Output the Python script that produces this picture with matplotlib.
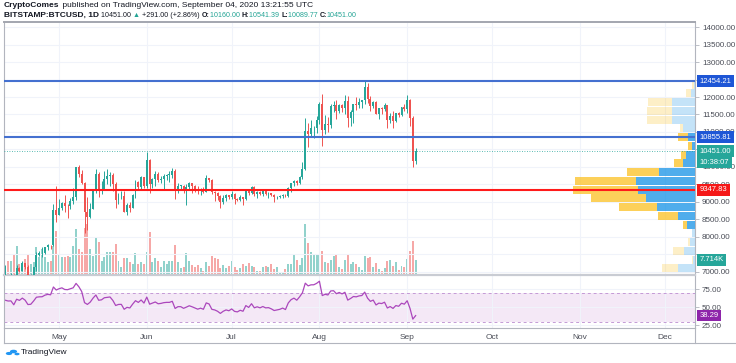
import numpy as np
import pandas as pd
import matplotlib
matplotlib.use('Agg')
import matplotlib.pyplot as plt
import matplotlib.dates as mdates
import matplotlib.transforms as mtransforms
from matplotlib.lines import Line2D
from matplotlib.patches import Circle
from matplotlib.colors import to_rgba

plt.rcParams['font.family'] = ['Liberation Sans', 'DejaVu Sans']

# BITSTAMP:BTCUSD daily candles, Apr 12 - Sep 4 2020
dates = pd.date_range('2020-04-12', '2020-09-04', freq='D')
first_open = 6890

closes = [
    6910, 6860, 6870, 6625, 7110, 7035, 7255, 7130, 6840, 6860, 7130, 7495, 7535, 7545, 7700, 7780, 7760, 8785, 8620,
    8830, 8975, 8890, 8880, 9020, 9150, 9990, 9810, 9540, 8720, 8560, 8810, 9310, 9790, 9320, 9380, 9670, 9730, 9780, 9510,
    9060, 9170, 9180, 8720, 8900, 8840, 9200, 9570, 9430, 9700, 9450,
    10200, 9520, 9660, 9800, 9630, 9670, 9750, 9780, 9780, 9880, 9320, 9470, 9470, 9340, 9430, 9530, 9460, 9380, 9300, 9360,
    9290, 9690, 9630, 9290, 9250, 9160, 9010, 9120, 9190, 9140,
    9230, 9090, 9060, 9130, 9080, 9340, 9250, 9440, 9240, 9290, 9240, 9300, 9240, 9250, 9200, 9130, 9150, 9170, 9210, 9160,
    9390, 9530, 9600, 9540, 9700, 9940, 11040, 10930, 11100, 11110, 11350,
    11810, 11070, 11230, 11190, 11740, 11770, 11600, 11760, 11680, 11880, 11400, 11570, 11790, 11770, 11870, 11910, 12300,
    11950, 11740, 11860, 11520, 11680, 11650, 11760, 11350, 11460, 11320, 11530, 11480, 11710, 11650,
    11920, 11390, 10160, 10451.00]

highs = [
    7200, 6910, 6975, 6935, 7190, 7150, 7300, 7260, 7200, 6935, 7155, 7580, 7605, 7700, 7710, 7800, 7780, 8950, 9470,
    9075, 9010, 9190, 8950, 9100, 9395, 10000, 10050, 9915, 9560, 9150, 8975, 9350, 9930, 9845, 9590, 9880, 9950, 9850, 9830,
    9570, 9260, 9310, 9300, 8980, 9010, 9220, 9620, 9600, 9740, 9710,
    10430, 10230, 9690, 9880, 9850, 9730, 9800, 9800, 9880, 9980, 9950, 9550, 9490, 9480, 9520, 9580, 9550, 9480, 9460, 9400,
    9420, 9780, 9690, 9670, 9320, 9290, 9200, 9190, 9230, 9200,
    9300, 9270, 9120, 9190, 9140, 9360, 9370, 9460, 9450, 9310, 9300, 9340, 9350, 9280, 9270, 9220, 9180, 9190, 9230, 9220,
    9420, 9540, 9640, 9630, 9730, 10130, 11400, 11250, 11350, 11170, 11450,
    11870, 12100, 11480, 11420, 11790, 11900, 11920, 11810, 11800, 12070, 12040, 11620, 11800, 11990, 11980, 11920, 12480,
    12400, 12020, 11880, 11880, 11690, 11720, 11820, 11770, 11540, 11590, 11550, 11580, 11720, 11790,
    12070, 11950, 11470, 10541.39]

lows = [
    6785, 6560, 6780, 6620, 6470, 7000, 7025, 7075, 6795, 6790, 6845, 7030, 7455, 7440, 7510, 7640, 7670, 7740, 8420,
    8615, 8760, 8715, 8535, 8790, 8935, 9045, 9720, 9520, 8100, 8200, 8530, 8800, 9260, 9140, 9240, 9330, 9500, 9470, 9300,
    8815, 8935, 9090, 8700, 8640, 8700, 8815, 9120, 9340, 9360, 9410,
    9410, 9270, 9400, 9460, 9580, 9540, 9380, 9640, 9570, 9690, 9090, 9250, 9350, 9250, 8910, 9370, 9270, 9280, 9220, 9200,
    9270, 9280, 9570, 9230, 9020, 9060, 8830, 8950, 9020, 9090,
    9080, 8940, 9030, 9040, 8900, 9060, 9200, 9230, 9160, 9120, 9190, 9160, 9200, 9110, 9170, 9000, 9090, 9120, 9110, 9130,
    9150, 9290, 9460, 9480, 9520, 9650, 9920, 10570, 10850, 10840, 10980,
    11220, 10600, 10950, 11000, 11100, 11580, 11380, 11530, 11560, 11520, 11140, 11160, 11260, 11630, 11690, 11680, 11810,
    11830, 11590, 11690, 11500, 11370, 11520, 11590, 11120, 11260, 11120, 11290, 11440, 11460, 11590,
    11530, 11160, 10000, 10089.77]

# daily volume, thousands of BTC
volumes = [
    3.9, 7.3, 7.3, 10.3, 15.0, 5.6, 5.6, 8.2, 10.8, 5.6, 6.5, 14.2, 9.0, 13.3, 9.0, 6.5, 7.3, 15.0, 22.7,
    10.8, 9.0, 9.0, 9.6, 9.0, 14.7, 23.6, 13.3, 12.0, 24.0, 26.0, 13.3, 10.0, 18.8, 16.8, 7.3, 9.0, 11.6, 11.6, 11.6,
    15.9, 7.3, 3.9, 8.5, 8.5, 6.5, 5.6, 11.3, 5.6, 6.8, 5.6,
    12.0, 21.9, 6.8, 8.7, 7.0, 4.3, 7.3, 5.6, 7.0, 7.3, 15.6, 6.8, 3.6, 3.9, 11.3, 7.0, 5.3, 3.9, 5.3, 3.4,
    1.9, 6.8, 4.8, 9.9, 8.5, 8.2, 3.6, 5.1, 3.6, 4.4,
    7.0, 3.9, 2.7, 3.6, 5.6, 4.8, 6.2, 4.4, 3.9, 2.2, 2.2, 3.9, 4.4, 3.9, 5.6, 3.1, 3.9, 1.7, 1.7, 3.1,
    5.6, 5.6, 10.3, 7.9, 5.3, 8.7, 26.2, 16.4, 12.0, 10.3, 10.3,
    10.8, 12.5, 6.8, 6.0, 7.7, 9.9, 10.3, 4.3, 3.1, 7.7, 10.3, 5.6, 6.8, 5.6, 4.3, 2.7, 9.6, 8.7, 9.0, 4.3,
    6.0, 3.1, 2.2, 3.4, 7.0, 7.9, 4.8, 6.5, 2.7, 4.8, 4.0,
    8.2, 12.5, 17.6, 7.714]

# closes before the visible range, only used to warm up RSI(14)
warmup_closes = [5360, 5020, 5370, 5410, 6190, 6200, 6190, 5830, 6480, 6770, 6690, 6760, 6380, 6250, 5880, 6400, 6420,
                 6640, 6800, 6740, 6860, 6780, 7330, 7200, 7370, 7290, 6865, 6890]

# visible range volume profile, rows of 250 USD
profile_bottoms = list(range(6979, 12480, 250))
profile_up = [17, 1.5, 11, 5, 3, 8, 17, 38, 49, 57, 59, 36, 12, 9, 3, 7, 12, 23, 23, 23, 4, 1]
profile_down = [16, 1.5, 11, 2, 0, 4, 20, 38, 55, 65, 61, 32, 9, 5, 4, 10, 3, 25, 25, 24, 5, 2]
value_area = (5, 15)

levels_blue = [12454.21, 10855.81]
level_red = 9347.83
last_price = 10451.00
last_volume_label = '7.714K'
countdown = '10:38:07'
rsi_last = 38.29
hidden_ticks = [12500, 10500, 7500]   # covered by the price tags

UP = '#26a69a'
DOWN = '#ef5350'
GRID = '#f0f3fa'
AXC = '#b2b5be'
TXT = '#131722'
TICK_TXT = '#4a4d57'

W, H = 736, 363
fig = plt.figure(figsize=(W / 100, H / 100), dpi=100)
fig.patch.set_facecolor('white')

def fx(px):
    return px / W

def fy(py):
    return 1 - py / H

ax = fig.add_axes([fx(4), fy(275), 691 / W, 253 / H])
rsi_ax = fig.add_axes([fx(4), fy(328), 691 / W, 52 / H], sharex=ax)
vol_ax = ax.twinx()
prof_ax = ax.twiny()

vol_ax.set_zorder(0)
ax.set_zorder(1)
prof_ax.set_zorder(2)
vol_ax.patch.set_facecolor('white')
vol_ax.patch.set_visible(True)
ax.patch.set_visible(False)
prof_ax.patch.set_visible(False)

x = mdates.date2num(dates)
c = np.array(closes, dtype=float)
o = np.array([first_open] + closes[:-1], dtype=float)
h = np.array(highs, dtype=float)
l = np.array(lows, dtype=float)
up = c >= o
col = np.where(up, UP, DOWN)

x_left = mdates.date2num(np.datetime64('2020-04-11T13:00'))
x_right = mdates.date2num(np.datetime64('2020-12-11T17:00'))

# price pane
ax.set_xlim(x_left, x_right)
ax.set_ylim(6914, 14143)
ax.vlines(x, l, h, colors=col, lw=0.7, zorder=3)
ax.bar(x, np.maximum(np.abs(c - o), 12), bottom=np.minimum(o, c), width=0.68,
       color=col, lw=0, zorder=4)
ax.set_yticks(np.arange(7000, 14001, 500))
ax.yaxis.set_major_formatter(matplotlib.ticker.FuncFormatter(
    lambda v, p: '' if round(v) in hidden_ticks else f'{v:.2f}'))
ax.yaxis.tick_right()
ax.tick_params(axis='y', labelsize=5.8, colors=AXC, labelcolor=TICK_TXT, length=3, width=0.6, pad=2)
ax.tick_params(axis='x', which='both', bottom=False, labelbottom=False)
ax.xaxis.set_major_locator(mdates.MonthLocator())
ax.grid(True, color=GRID, lw=0.8)
for s in ['left', 'right']:
    ax.spines[s].set_color(AXC)
    ax.spines[s].set_linewidth(0.8)
ax.spines['top'].set_color('#a3a6af')
ax.spines['top'].set_linewidth(1.4)
ax.spines['bottom'].set_color('#c9ccd3')
ax.spines['bottom'].set_linewidth(1.6)

# volume
vol_ax.set_ylim(0, 130)
vol_ax.bar(x, volumes, width=0.7, color=[to_rgba(cc, 0.5) for cc in col], lw=0)
vol_ax.yaxis.set_visible(False)
for s in vol_ax.spines.values():
    s.set_visible(False)

# volume profile (right side)
prof_ax.set_xlim(691, 0)
prof_ax.xaxis.set_visible(False)
for s in prof_ax.spines.values():
    s.set_visible(False)
for k, (b, u, d) in enumerate(zip(profile_bottoms, profile_up, profile_down)):
    inside = value_area[0] <= k <= value_area[1]
    a = 0.75 if inside else 0.25
    prof_ax.barh(b + 8, u, height=234, left=0, align='edge', color=to_rgba('#1592e6', a), lw=0)
    prof_ax.barh(b + 8, d, height=234, left=u, align='edge', color=to_rgba('#fbc123', a), lw=0)

for lv in levels_blue:
    prof_ax.axhline(lv, color='#4470d0', lw=1.5, zorder=5)
prof_ax.axhline(level_red, color='#ff1a1a', lw=1.5, zorder=5)
prof_ax.axhline(last_price, color=UP, lw=0.6, ls=(0, (1, 2)), zorder=5)

# right-side labels
blend = mtransforms.blended_transform_factory(prof_ax.transAxes, prof_ax.transData)
TAG_FS = 5.5

def price_tag(y, text, fc, dy=0, trans=blend):
    prof_ax.annotate(text, xy=(1.0, y), xycoords=trans, xytext=(3.4, dy), textcoords='offset points',
                     ha='left', va='center', fontsize=TAG_FS, color='white', annotation_clip=False, zorder=20,
                     bbox=dict(boxstyle='square,pad=0.3', fc=fc, ec='none'))

for lv in levels_blue:
    price_tag(lv, f'{lv:.2f}', '#1e56d6')
price_tag(level_red, f'{level_red:.2f}', '#f51818')
price_tag(last_price, f'{last_price:.2f}', UP)
price_tag(last_price, countdown, UP, dy=-7.8)
vol_blend = mtransforms.blended_transform_factory(vol_ax.transAxes, vol_ax.transData)
price_tag(volumes[-1], last_volume_label, UP, trans=vol_blend)

# RSI(14), Wilder smoothing
allc = np.array(warmup_closes + closes, dtype=float)
delta = np.diff(allc)
gain = np.clip(delta, 0, None)
loss = np.clip(-delta, 0, None)
n = 14
ag = gain[:n].mean()
al = loss[:n].mean()
rsi_all = []
for g, lo in zip(gain[n:], loss[n:]):
    ag = (ag * (n - 1) + g) / n
    al = (al * (n - 1) + lo) / n
    rsi_all.append(100 - 100 / (1 + ag / al))
rsi = np.array(rsi_all[-len(closes):])

rsi_ax.set_ylim(21, 93)
rsi_ax.axhspan(30, 70, color='#9c27b0', alpha=0.1, lw=0)
rsi_ax.axhline(70, color='#c49ad6', lw=0.7, ls=(0, (3, 3)))
rsi_ax.axhline(30, color='#c49ad6', lw=0.7, ls=(0, (3, 3)))
rsi_ax.plot(x, rsi, color='#ab47bc', lw=0.9)
rsi_ax.set_yticks([25, 50, 75])
rsi_ax.yaxis.set_major_formatter(matplotlib.ticker.FormatStrFormatter('%.2f'))
rsi_ax.yaxis.tick_right()
rsi_ax.tick_params(axis='y', labelsize=5.8, colors=AXC, labelcolor=TICK_TXT, length=3, width=0.6, pad=2)
rsi_ax.xaxis.set_major_locator(mdates.MonthLocator())
rsi_ax.xaxis.set_major_formatter(mdates.DateFormatter('%b'))
rsi_ax.tick_params(axis='x', labelsize=6, length=0, labelcolor=TICK_TXT, pad=4)
rsi_ax.grid(True, color=GRID, lw=0.8)
rsi_ax.set_xlim(x_left, x_right)
for s in ['left', 'right', 'bottom']:
    rsi_ax.spines[s].set_color(AXC)
    rsi_ax.spines[s].set_linewidth(0.8)
rsi_ax.spines['top'].set_visible(False)
rsi_blend = mtransforms.blended_transform_factory(rsi_ax.transAxes, rsi_ax.transData)
rsi_ax.annotate(f'{rsi_last:.2f}', xy=(1.0, rsi_last), xycoords=rsi_blend, xytext=(3.4, 0),
                textcoords='offset points', ha='left', va='center', fontsize=TAG_FS, color='white',
                annotation_clip=False, zorder=20, bbox=dict(boxstyle='square,pad=0.3', fc='#8e24aa', ec='none'))

# outer frame of the time scale
fig.add_artist(Line2D([fx(3.5), fx(3.5)], [fy(328), fy(343)], transform=fig.transFigure, color=AXC, lw=0.8))
fig.add_artist(Line2D([fx(3.5), fx(736)], [fy(343), fy(343)], transform=fig.transFigure, color=AXC, lw=0.8))
fig.add_artist(Line2D([fx(695), fx(695)], [fy(328), fy(343)], transform=fig.transFigure, color=AXC, lw=0.8))

# header
renderer = fig.canvas.get_renderer()

def text_run(x0, y0, pieces):
    xx = fx(x0)
    for s, color, weight, size in pieces:
        t = fig.text(xx, fy(y0), s, color=color, fontweight=weight, fontsize=size, va='center', ha='left')
        bb = t.get_window_extent(renderer=renderer)
        xx = bb.x1 / W

TEAL = '#22a394'
text_run(4, 5.5, [('CryptoComes', TXT, 'bold', 6),
                  (' published on TradingView.com, September 04, 2020 13:21:55 UTC', TXT, 'normal', 6)])
S = 5.15
text_run(4, 15.5, [('BITSTAMP:BTCUSD, 1D', TXT, 'bold', 6), (' 10451.00 ', TXT, 'normal', S),
                   ('\u25b2', TEAL, 'normal', S), (' +291.00 (+2.86%) ', TXT, 'normal', S),
                   ('O:', TXT, 'bold', S), ('10160.00 ', TEAL, 'normal', S),
                   ('H:', TXT, 'bold', S), ('10541.39 ', TEAL, 'normal', S),
                   ('L:', TXT, 'bold', S), ('10089.77 ', TEAL, 'normal', S),
                   ('C:', TXT, 'bold', S), ('10451.00', TEAL, 'normal', S)])

# TradingView footer logo
for cx, cy, r in [(9, 353.5, 3.2), (13.5, 351.5, 3.6), (17, 354, 2.6)]:
    fig.add_artist(Circle((fx(cx), fy(cy)), r / W, transform=fig.transFigure, color='#2196f3', lw=0))
fig.text(fx(21), fy(352.5), 'TradingView', fontsize=6, color=TXT, va='center', ha='left')

fig.savefig('out.png', dpi=100, facecolor='white')
